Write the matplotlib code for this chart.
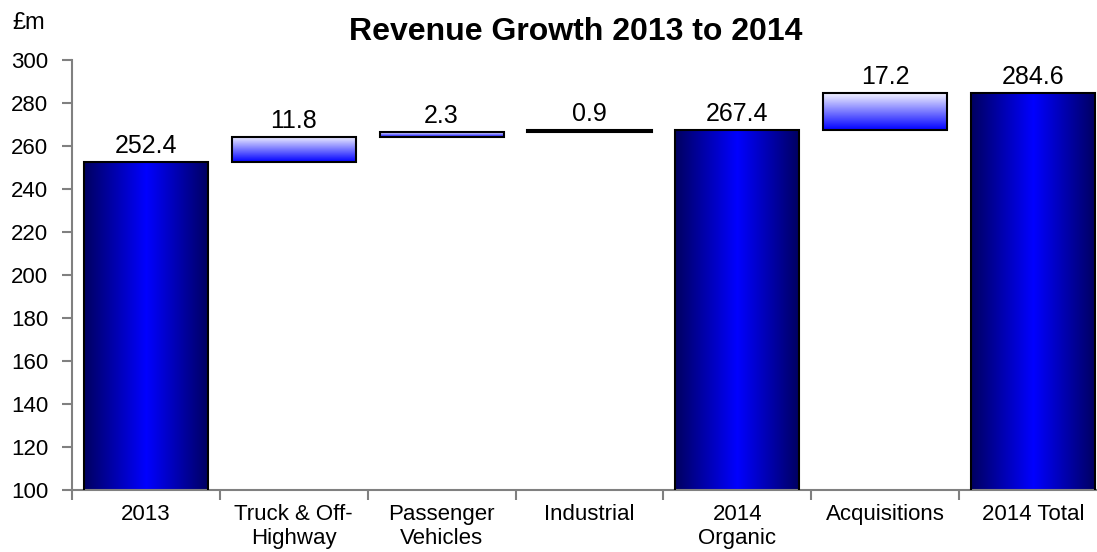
import numpy as np
import matplotlib.pyplot as plt
from matplotlib.colors import LinearSegmentedColormap

plt.rcParams['font.family'] = ['Liberation Sans', 'DejaVu Sans']

# Revenue bridge data (£m)
categories = ['2013', 'Truck & Off-\nHighway', 'Passenger\nVehicles', 'Industrial',
              '2014\nOrganic', 'Acquisitions', '2014 Total']
values = [252.4, 11.8, 2.3, 0.9, 267.4, 17.2, 284.6]
is_total = [True, False, False, False, True, False, True]

# bottoms for the floating bars
bottoms = []
running = 0.0
for v, tot in zip(values, is_total):
    if tot:
        bottoms.append(0.0)
        running = v
    else:
        bottoms.append(running)
        running += v
tops = [b + v for b, v in zip(bottoms, values)]

y_min, y_max = 100, 300

total_cmap = LinearSegmentedColormap.from_list('tot', ['#000060', '#0000ff', '#000060'])
step_cmap = LinearSegmentedColormap.from_list('step', ['#0000ff', '#f4f4ff'])

fig = plt.figure(figsize=(10.97, 5.52), dpi=100)
ax = fig.add_axes([0.0656, 0.1123, 0.9435, 0.779])

x = np.arange(len(categories))
bars = ax.bar(x, [t - b for t, b in zip(tops, bottoms)], bottom=bottoms, width=0.84,
              facecolor='none', edgecolor='black', linewidth=1.5, zorder=3)

# gradient fills clipped to each bar
for bar, tot in zip(bars, is_total):
    x0, y0 = bar.get_x(), bar.get_y()
    w, h = bar.get_width(), bar.get_height()
    if tot:
        grad = np.linspace(0, 1, 256).reshape(1, -1)
        cmap = total_cmap
    else:
        grad = np.linspace(0, 1, 256).reshape(-1, 1)
        cmap = step_cmap
    im = ax.imshow(grad, cmap=cmap, extent=(x0, x0 + w, max(y0, y_min), y0 + h),
                   origin='lower', aspect='auto', zorder=2, interpolation='bilinear')
    im.set_clip_path(bar)

ax.set_xlim(-0.5, len(categories) - 0.5)
ax.set_ylim(y_min, y_max)

for xi, t, v in zip(x, tops, values):
    ax.text(xi, t + 2.0, f'{v:.1f}', ha='center', va='bottom', fontsize=18)

ax.set_yticks(np.arange(y_min, y_max + 1, 20))
ax.set_xticks(x)
ax.set_xticklabels(categories)
ax.set_xticks(np.arange(-0.5, len(categories), 1), minor=True)
ax.tick_params(axis='x', which='major', length=0, labelsize=16, pad=10)
ax.tick_params(axis='x', which='minor', length=7, color='#808080', width=1.5)
ax.tick_params(axis='y', length=7, color='#808080', width=1.5, labelsize=16, pad=10)

for side in ['top', 'right']:
    ax.spines[side].set_visible(False)
for side in ['left', 'bottom']:
    ax.spines[side].set_color('#808080')
    ax.spines[side].set_linewidth(1.5)

fig.text(0.525, 0.942, 'Revenue Growth 2013 to 2014', ha='center', va='center',
         fontsize=23, fontweight='bold')
fig.text(0.011, 0.958, '£m', ha='left', va='center', fontsize=17)

fig.savefig('out.png', dpi=100)
